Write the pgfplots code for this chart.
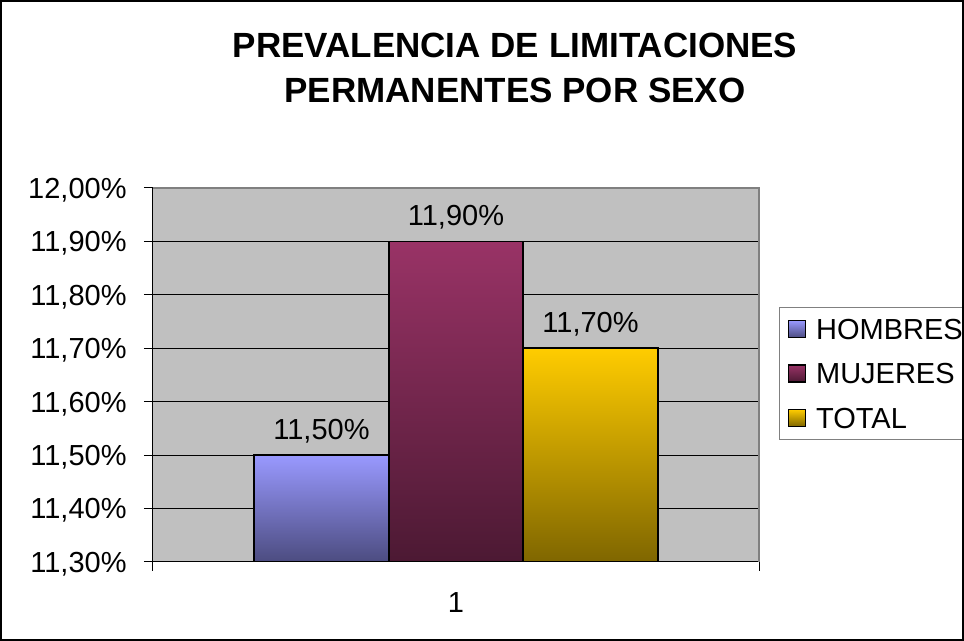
\documentclass[border=0pt]{standalone}
\usepackage{fontspec}
\setmainfont{Liberation Sans}
\usepackage{pgfplots}
\pgfplotsset{compat=1.18}
\definecolor{plotGray}{HTML}{C0C0C0}
\definecolor{edgeGray}{HTML}{808080}
\definecolor{hTop}{HTML}{9999FF}
\definecolor{hBot}{HTML}{4C4C80}
\definecolor{mTop}{HTML}{993366}
\definecolor{mBot}{HTML}{4C1933}
\definecolor{tTop}{HTML}{FFCC00}
\definecolor{tBot}{HTML}{7F6600}
\newcommand\lbl{\fontsize{14.5}{17}\selectfont}

\begin{document}
\begin{tikzpicture}
  \begin{axis}[
    name=ax,
    at={(0,0)}, anchor=south west,
    scale only axis,
    width=303pt, height=187pt,
    xmin=0.5, xmax=1.5,
    ymin=11.3, ymax=12.0,
    y coord trafo/.code={\pgfmathparse{#1-11.3}},
    y coord inv trafo/.code={\pgfmathparse{#1+11.3}},
    ytick={11.3,11.4,11.5,11.6,11.7,11.8,11.9,12.0},
    yticklabels={{11,30\%},{11,40\%},{11,50\%},{11,60\%},{11,70\%},{11,80\%},{11,90\%},{12,00\%}},
    xtick={0.5,1.5},
    xticklabels={{},{}},
    extra x ticks={1},
    extra x tick labels={1},
    extra x tick style={major tick length=0pt, grid=none,
      xticklabel style={anchor=base, yshift=-25.5pt, inner sep=0pt}},
    axis x line*=bottom, axis y line*=left,
    axis line style={-, black, line width=0.5pt},
    tick align=outside,
    major tick length=4.5pt,
    tick style={black, line width=0.5pt},
    yticklabel style={anchor=base east, inner sep=0pt, xshift=-8.5pt, yshift=-5.2pt},
    tick label style={font=\lbl},
    ymajorgrids=true,
    grid style={black, line width=0.5pt},
    axis background/.style={fill=plotGray},
    ybar=0pt,
    bar width=67.25pt,
    nodes near coords style={font=\lbl, anchor=base, yshift=8pt, inner sep=0pt},
    legend cell align=left,
    legend image code/.code={\draw[#1] (0pt,-4.25pt) rectangle (8.5pt,4.25pt);
      \path (12pt,0pt);},
    legend style={at={(1.033,0.682)}, anchor=north west, draw=edgeGray,
      line width=0.5pt, fill=white, font=\lbl, inner sep=4pt, row sep=8.75pt,
      nodes={inner sep=1.5pt, text height=10.5pt, text depth=0pt}},
  ]
    \addplot[draw=black, line width=0.8pt, top color=hTop, bottom color=hBot,
      nodes near coords={11,50\%}] coordinates {(1,11.5)};
    \addplot[draw=black, line width=0.8pt, top color=mTop, bottom color=mBot,
      nodes near coords={11,90\%}] coordinates {(1,11.9)};
    \addplot[draw=black, line width=0.8pt, top color=tTop, bottom color=tBot,
      nodes near coords={11,70\%}] coordinates {(1,11.7)};
    \legend{HOMBRES,MUJERES,TOTAL}
  \end{axis}
  \draw[edgeGray, line width=1pt] (ax.north west) -- (ax.north east) -- (ax.south east);
  \node[font=\fontsize{17.5}{22}\bfseries\selectfont, anchor=base, inner sep=0pt]
    at (181pt,252pt) {PREVALENCIA DE LIMITACIONES};
  \node[font=\fontsize{17.5}{22}\bfseries\selectfont, anchor=base, inner sep=0pt]
    at (181pt,229.5pt) {PERMANENTES POR SEXO};
  \draw[black, line width=1pt] (-76pt,-39pt) rectangle (405pt,280.5pt);
  \pgfresetboundingbox
  \path[use as bounding box] (-76.5pt,-39.5pt) rectangle (405.5pt,281pt);
\end{tikzpicture}
\end{document}
